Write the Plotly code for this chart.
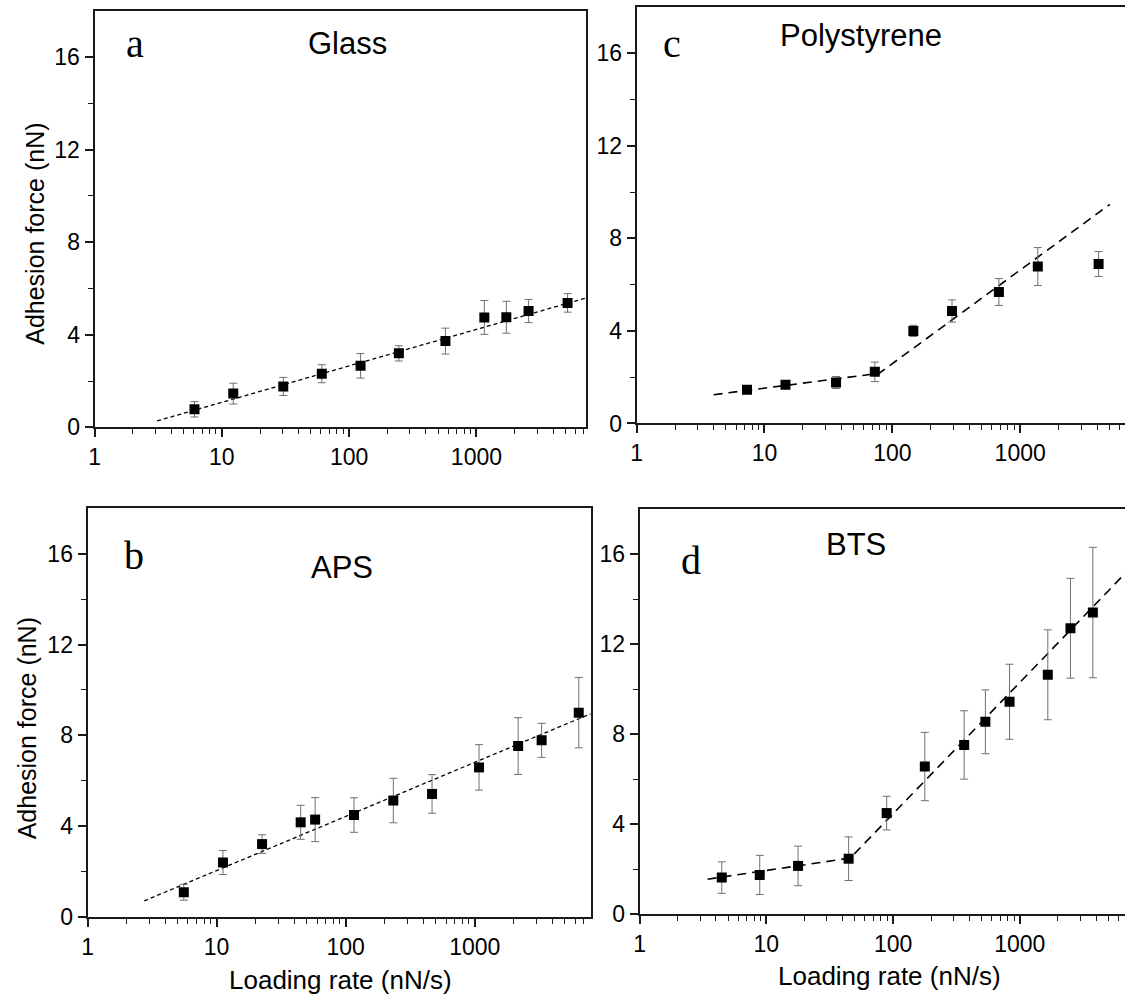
import plotly.graph_objects as go

# ---------------- data ----------------
# Panel a: Glass
glass_rate = [6.1, 12.3, 30.4, 61, 123, 246, 571, 1154, 1718, 2570, 5200]
glass_force = [0.78, 1.46, 1.77, 2.32, 2.66, 3.20, 3.73, 4.75, 4.76, 5.03, 5.38]
glass_err = [0.33, 0.45, 0.39, 0.39, 0.53, 0.33, 0.56, 0.73, 0.69, 0.50, 0.40]
glass_fit_rate = [3.1, 7244]
glass_fit_force = [0.28, 5.59]

# Panel c: Polystyrene
ps_rate = [7.3, 14.6, 36.3, 73, 146, 293, 682, 1374, 4106]
ps_force = [1.46, 1.67, 1.77, 2.23, 4.00, 4.86, 5.68, 6.78, 6.89]
ps_err = [0.17, 0.12, 0.26, 0.42, 0.24, 0.48, 0.58, 0.82, 0.54]
ps_fit_rate = [4.0, 79, 5040]
ps_fit_force = [1.24, 2.17, 9.47]

# Panel b: APS
aps_rate = [5.57, 11.2, 22.5, 44.8, 58, 116, 234, 467, 1080, 2170, 3300, 6400]
aps_force = [1.09, 2.40, 3.21, 4.17, 4.29, 4.49, 5.13, 5.42, 6.59, 7.53, 7.78, 9.00]
aps_err = [0.35, 0.53, 0.41, 0.75, 0.97, 0.76, 0.98, 0.85, 1.00, 1.25, 0.75, 1.55]
aps_fit_rate = [2.75, 7900]
aps_fit_force = [0.71, 8.95]

# Panel d: BTS
bts_rate = [4.45, 8.87, 17.8, 44.6, 89, 178, 364, 535, 830, 1663, 2510, 3770]
bts_force = [1.62, 1.74, 2.14, 2.46, 4.49, 6.56, 7.52, 8.55, 9.44, 10.64, 12.71, 13.41]
bts_err = [0.70, 0.87, 0.88, 0.97, 0.75, 1.52, 1.52, 1.42, 1.67, 2.00, 2.22, 2.90]
bts_fit_rate = [3.44, 46, 8000]
bts_fit_force = [1.55, 2.49, 15.57]

x_tick_vals = [1, 10, 100, 1000]
x_tick_text = ["1", "10", "100", "1000"]
y_tick_vals = [0, 4, 8, 12, 16]
y_minor_vals = [2, 6, 10, 14]

panel_letters = ["a", "c", "b", "d"]
panel_names = ["Glass", "Polystyrene", "APS", "BTS"]
y_title = "Adhesion force (nN)"
x_title = "Loading rate (nN/s)"

# ---------------- figure ----------------
W, H = 1125, 1005
fig = go.Figure()

panels = [
    (glass_rate, glass_force, glass_err, glass_fit_rate, glass_fit_force, "x", "y", "4px,3px", 1.3),
    (ps_rate, ps_force, ps_err, ps_fit_rate, ps_fit_force, "x2", "y2", "9px,6px", 1.6),
    (aps_rate, aps_force, aps_err, aps_fit_rate, aps_fit_force, "x3", "y3", "4px,3px", 1.3),
    (bts_rate, bts_force, bts_err, bts_fit_rate, bts_fit_force, "x4", "y4", "9px,6px", 1.6),
]

for rate, force, err, frate, fforce, xa, ya, dash, lw in panels:
    fig.add_trace(go.Scatter(
        x=frate, y=fforce, mode="lines", xaxis=xa, yaxis=ya,
        line=dict(color="black", width=lw, dash=dash), showlegend=False,
        hoverinfo="skip"))
    fig.add_trace(go.Scatter(
        x=rate, y=force, mode="markers", xaxis=xa, yaxis=ya,
        marker=dict(symbol="square", size=10, color="black"),
        error_y=dict(type="data", array=err, visible=True,
                     color="#707070", thickness=1, width=4),
        showlegend=False))

def px_x(p):
    return p / W

def px_y(p):
    return 1 - p / H

tick_font = dict(family="Liberation Sans, Arial, sans-serif", size=23, color="black")
line_col = "#1a1a1a"

def xax(domain, rng, mirror, anchor):
    return dict(
        domain=domain, anchor=anchor, type="log", range=[0, rng],
        showline=True, linecolor=line_col, linewidth=2, mirror=mirror,
        ticks="outside", ticklen=8, tickwidth=1.5, tickcolor=line_col,
        tickvals=x_tick_vals, ticktext=x_tick_text, tickfont=tick_font,
        showgrid=False, zeroline=False,
        minor=dict(ticks="outside", ticklen=5, tickwidth=1.3, tickcolor=line_col,
                   dtick="D1", showgrid=False),
    )

def yax(domain, mirror, anchor):
    return dict(
        domain=domain, anchor=anchor, range=[0, 18],
        showline=True, linecolor=line_col, linewidth=2, mirror=mirror,
        ticks="outside", ticklen=8, tickwidth=1.5, tickcolor=line_col,
        tickvals=y_tick_vals, tickfont=tick_font,
        showgrid=False, zeroline=False,
        minor=dict(ticks="outside", ticklen=5, tickwidth=1.3, tickcolor=line_col,
                   tickvals=y_minor_vals, showgrid=False),
    )

fig.update_layout(
    width=W, height=H,
    margin=dict(l=0, r=0, t=0, b=0),
    paper_bgcolor="white", plot_bgcolor="white",
    xaxis=xax([px_x(89), px_x(583)], 3.86, True, "y"),
    yaxis=yax([px_y(433), px_y(11)], True, "x"),
    xaxis2=xax([px_x(634), 1.0], 3.82, True, "y2"),
    yaxis2=yax([px_y(429), px_y(7)], False, "x2"),
    xaxis3=xax([px_x(82), px_x(588)], 3.90, True, "y3"),
    yaxis3=yax([px_y(929), px_y(515)], True, "x3"),
    xaxis4=xax([px_x(637), 1.0], 3.83, True, "y4"),
    yaxis4=yax([px_y(926), px_y(516)], False, "x4"),
)

annotations = []
letter_pos = [(130, 44), (670, 44), (129, 563), (689, 568)]
name_pos = [(343, 44), (860, 36), (338, 575), (855, 552)]
for i in range(4):
    lx, ly = letter_pos[i]
    annotations.append(dict(
        x=px_x(lx), y=px_y(ly), xref="paper", yref="paper",
        text=panel_letters[i], showarrow=False, xanchor="center", yanchor="middle",
        font=dict(family="Liberation Serif, Times New Roman, serif", size=40, color="black")))
    nx, ny = name_pos[i]
    annotations.append(dict(
        x=px_x(nx), y=px_y(ny), xref="paper", yref="paper",
        text=panel_names[i], showarrow=False, xanchor="center", yanchor="middle",
        font=dict(family="Liberation Sans, Arial, sans-serif", size=31, color="black")))

for (tx, ty) in [(29, 237), (22, 738)]:
    annotations.append(dict(
        x=px_x(tx), y=px_y(ty), xref="paper", yref="paper", text=y_title,
        showarrow=False, textangle=-90, xanchor="center", yanchor="middle",
        font=dict(family="Liberation Sans, Arial, sans-serif", size=25, color="black")))
for (tx, ty) in [(336, 993), (888, 989)]:
    annotations.append(dict(
        x=px_x(tx), y=px_y(ty), xref="paper", yref="paper", text=x_title,
        showarrow=False, xanchor="center", yanchor="middle",
        font=dict(family="Liberation Sans, Arial, sans-serif", size=26, color="black")))

fig.update_layout(annotations=annotations)

fig.write_html("out.html")
